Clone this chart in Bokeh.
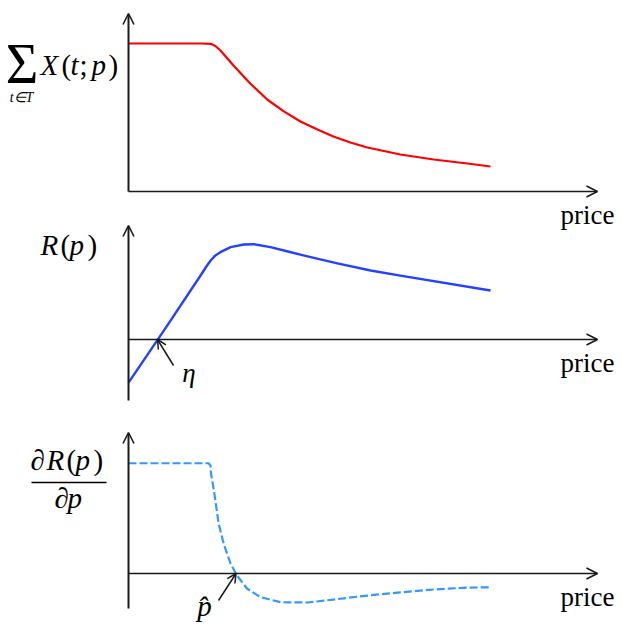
from bokeh.plotting import figure
from bokeh.models import Range1d, Label, Arrow, OpenHead
from bokeh.embed import file_html
from bokeh.resources import INLINE

# ---------------- data ----------------
price_demand = [0, 1, 2, 2.27, 2.4, 2.54, 2.9, 3.37, 3.84, 4.28, 4.75, 5.22, 5.66, 6.13, 6.6, 7.51, 8.43, 9.36, 10]
demand = [100, 100, 100, 99.8, 98.3, 95.3, 85.1, 72.8, 62.0, 54.3, 47.3, 41.9, 37.2, 33.1, 29.7, 25.0, 21.6, 18.9, 16.9]

price_revenue = [0, 1, 2, 2.17, 2.27, 2.4, 2.54, 2.82, 3.19, 3.46, 3.92, 4.35, 4.83, 5.77, 6.69, 7.51, 10]
revenue = [-29.1, 6.8, 43.6, 50.0, 53.4, 56.8, 59.0, 62.4, 64.2, 64.4, 62.4, 59.8, 56.8, 51.4, 46.6, 43.2, 33.1]

price_marginal = [0, 2.21, 2.265, 2.28, 2.36, 2.49, 2.63, 2.82, 3.0, 3.28, 3.65, 4.2, 4.94, 5.66, 6.6, 7.51, 8.43, 9.36, 10]
marginal = [74.5, 74.5, 73.0, 67.6, 56.1, 33.6, 20.1, 6.6, -1.4, -10.3, -16.0, -19.4, -19.6, -17.6, -14.9, -12.8, -10.8, -9.5, -9.4]

eta_price = 0.8      # where R(p) crosses zero
p_hat = 2.97         # where dR/dp crosses zero

x_label = "price"

# ---------------- layout (pixels of the page) ----------------
W, H = 622, 634
AXIS_X_PX = 128          # page x of the vertical axes
PX_PER_PRICE = 36.2
PX_PER_UNIT = 1.48
AXIS_Y_PX = [191, 339, 573]   # page y of the three horizontal axes
TEXT_DY_EM = 0.26        # baseline correction for labels, in em


def X(px):
    return (px - AXIS_X_PX) / PX_PER_PRICE


def Y(px, k):
    return (AXIS_Y_PX[k] - px) / PX_PER_UNIT


def panel_range(k):
    return Range1d(start=Y(H, k), end=Y(0, k))


p = figure(width=W, height=H, x_range=Range1d(X(0), X(W)),
           y_range=panel_range(0), x_axis_type=None, y_axis_type=None,
           output_backend="svg", toolbar_location=None, min_border=0)
p.extra_y_ranges = {"p1": panel_range(1), "p2": panel_range(2)}
p.grid.visible = False
p.outline_line_color = None
p.background_fill_color = "white"
p.border_fill_color = "white"

names = ["default", "p1", "p2"]
AX = "#1a1a1a"
SERIF = "Liberation Serif"


def text(k, x_px, base_px, s, size, italic=True, align="left"):
    p.add_layout(Label(x=X(x_px), y=Y(base_px - TEXT_DY_EM * size, k), text=s,
                       text_align=align, text_baseline="alphabetic", text_font=SERIF,
                       text_font_style="italic" if italic else "normal",
                       text_font_size=f"{size}px", text_color="black",
                       y_range_name=names[k]))


# axes with arrow heads
y_top = [13, 225, 432]
y_bottom = [191, 400, 608]
for k in range(3):
    p.add_layout(Arrow(end=OpenHead(size=11, line_width=1.6, line_color=AX),
                       x_start=0, y_start=Y(y_bottom[k], k), x_end=0, y_end=Y(y_top[k], k),
                       line_width=2.0, line_color=AX, y_range_name=names[k]))
    p.add_layout(Arrow(end=OpenHead(size=11, line_width=1.6, line_color=AX),
                       x_start=0, y_start=0, x_end=X(597), y_end=0,
                       line_width=1.6, line_color=AX, y_range_name=names[k]))
    text(k, 614, AXIS_Y_PX[k] + 31, x_label, 27, italic=False, align="right")

# curves
p.line(price_demand, demand, line_color="#ff0000", line_width=2.2, line_join="round")
p.line(price_revenue, revenue, line_color="#2342ff", line_width=2.4, line_join="round",
       y_range_name="p1")
p.line(price_marginal, marginal, line_color="#3399ff", line_width=2.2, line_dash="8 3",
       line_join="round", y_range_name="p2")

# panel 1 label: sum_{t in T} X(t; p)
text(0, 21.5, 78, "\u03a3", 56, italic=False, align="center")
for s, xl, it in [("X", 40, True), ("(", 61, False), ("t", 70, True), (";", 79, False),
                  ("p", 91, True), (")", 108, False)]:
    text(0, xl, 72, s, 29, italic=it)
text(0, 21, 101, "t\u2208T", 14, align="center")

# panel 2 label: R(p)
for s, xl, it in [("R", 40, True), ("(", 60, False), ("p", 69, True), (")", 87, False)]:
    text(1, xl, 252, s, 29, italic=it)

# panel 3 label: dR(p)/dp
for s, xl, it in [("\u2202", 30, True), ("R", 46, True), ("(", 66, False), ("p", 75, True),
                  (")", 93, False)]:
    text(2, xl, 467, s, 29, italic=it)
p.segment(x0=[X(31)], y0=[Y(482, 2)], x1=[X(106)], y1=[Y(482, 2)],
          line_color="black", line_width=1.5, y_range_name="p2")
for s, xl in [("\u2202", 54), ("p", 67)]:
    text(2, xl, 505, s, 29)

# eta annotation
p.add_layout(Arrow(end=OpenHead(size=9, line_width=1.5, line_color=AX),
                   x_start=X(173), y_start=Y(365, 1), x_end=eta_price, y_end=0,
                   line_width=1.5, line_color=AX, y_range_name="p1"))
text(1, 188.5, 380, "\u03b7", 27, align="center")

# p-hat annotation
p.add_layout(Arrow(end=OpenHead(size=9, line_width=1.5, line_color=AX),
                   x_start=X(218), y_start=Y(600, 2), x_end=p_hat, y_end=0,
                   line_width=1.5, line_color=AX, y_range_name="p2"))
text(2, 204, 613, "p\u0302", 29, align="center")

open("out.html", "w").write(file_html(p, INLINE))
